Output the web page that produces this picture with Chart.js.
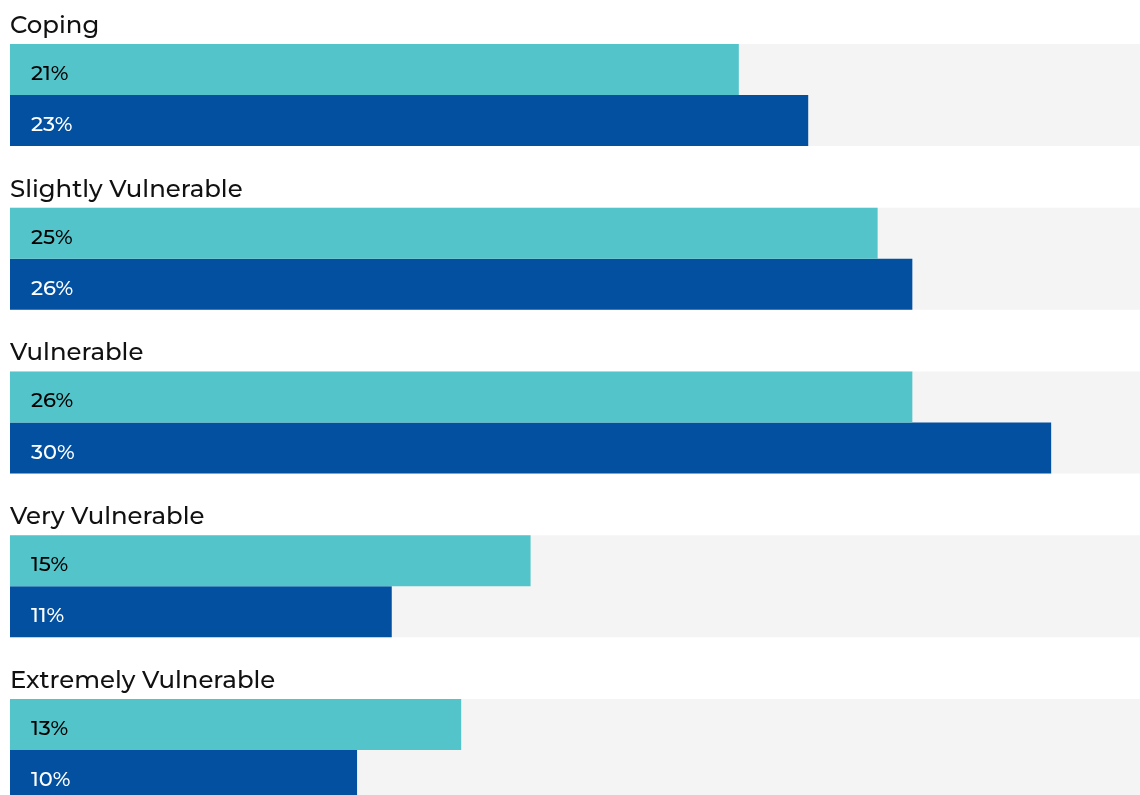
<!DOCTYPE html>
<html>
<head>
<meta charset="utf-8">
<script src="https://cdn.jsdelivr.net/npm/chart.js@4/dist/chart.umd.min.js"></script>
<style>
    html, body { margin: 0; padding: 0; background: #fff; overflow: hidden; }
    #wrap { position: relative; width: 1140px; height: 845px; }
</style>
</head>
<body>
<div id="wrap"><canvas id="vuln-chart"></canvas></div>
<script>
const categories = ['Coping', 'Slightly Vulnerable', 'Vulnerable', 'Very Vulnerable', 'Extremely Vulnerable'];
const firstValues = [21, 25, 26, 15, 13];
const secondValues = [23, 26, 30, 11, 10];
const axisMax = 32.56;
const trackValues = categories.map(() => axisMax);

const FONT = "Montserrat, Inter, 'Noto Sans', sans-serif";

// category names above each group + value text inside the bars
const barLabels = {
    id: 'barLabels',
    afterDatasetsDraw(chart) {
        const ctx = chart.ctx;
        const left = chart.chartArea.left;
        const metaA = chart.getDatasetMeta(0);
        const metaB = chart.getDatasetMeta(1);
        ctx.save();
        ctx.textAlign = 'left';
        ctx.textBaseline = 'alphabetic';

        metaA.data.forEach((bar, i) => {
            const top = bar.y - bar.height / 2;
            ctx.font = '500 24.4px ' + FONT;
            ctx.fillStyle = '#111111';
            ctx.fillText(categories[i], left, top - 11);
        });

        [[metaA, firstValues, '#000000'], [metaB, secondValues, '#ffffff']].forEach(([meta, values, color]) => {
            meta.data.forEach((bar, i) => {
                ctx.font = '500 21px ' + FONT;
                ctx.fillStyle = color;
                ctx.fillText(values[i] + '%', bar.base + 21, bar.y + 10.5);
            });
        });
        ctx.restore();
    }
};

const canvas = document.querySelector('#vuln-chart');

new Chart(canvas, {
    type: 'bar',
    data: {
        labels: categories,
        datasets: [
            {
                label: 'First',
                data: firstValues,
                backgroundColor: '#52c4ca',
                order: 1,
            },
            {
                label: 'Second',
                data: secondValues,
                backgroundColor: '#02509f',
                order: 1,
            },
            {
                label: 'Track',
                data: trackValues,
                backgroundColor: '#f4f4f4',
                grouped: false,
                order: 2,
            }
        ]
    },
    options: {
        indexAxis: 'y',
        responsive: true,
        maintainAspectRatio: false,
        animation: false,
        datasets: {
            bar: {
                categoryPercentage: 0.623,
                barPercentage: 1,
                borderWidth: 0,
            }
        },
        layout: {
            padding: { left: 10, right: 0, top: 13, bottom: 13 }
        },
        plugins: {
            legend: { display: false },
            tooltip: { enabled: false },
        },
        scales: {
            x: {
                display: false,
                min: 0,
                max: axisMax,
            },
            y: {
                display: false,
                offset: true,
            }
        }
    },
    plugins: [barLabels]
});
</script>
</body>
</html>
